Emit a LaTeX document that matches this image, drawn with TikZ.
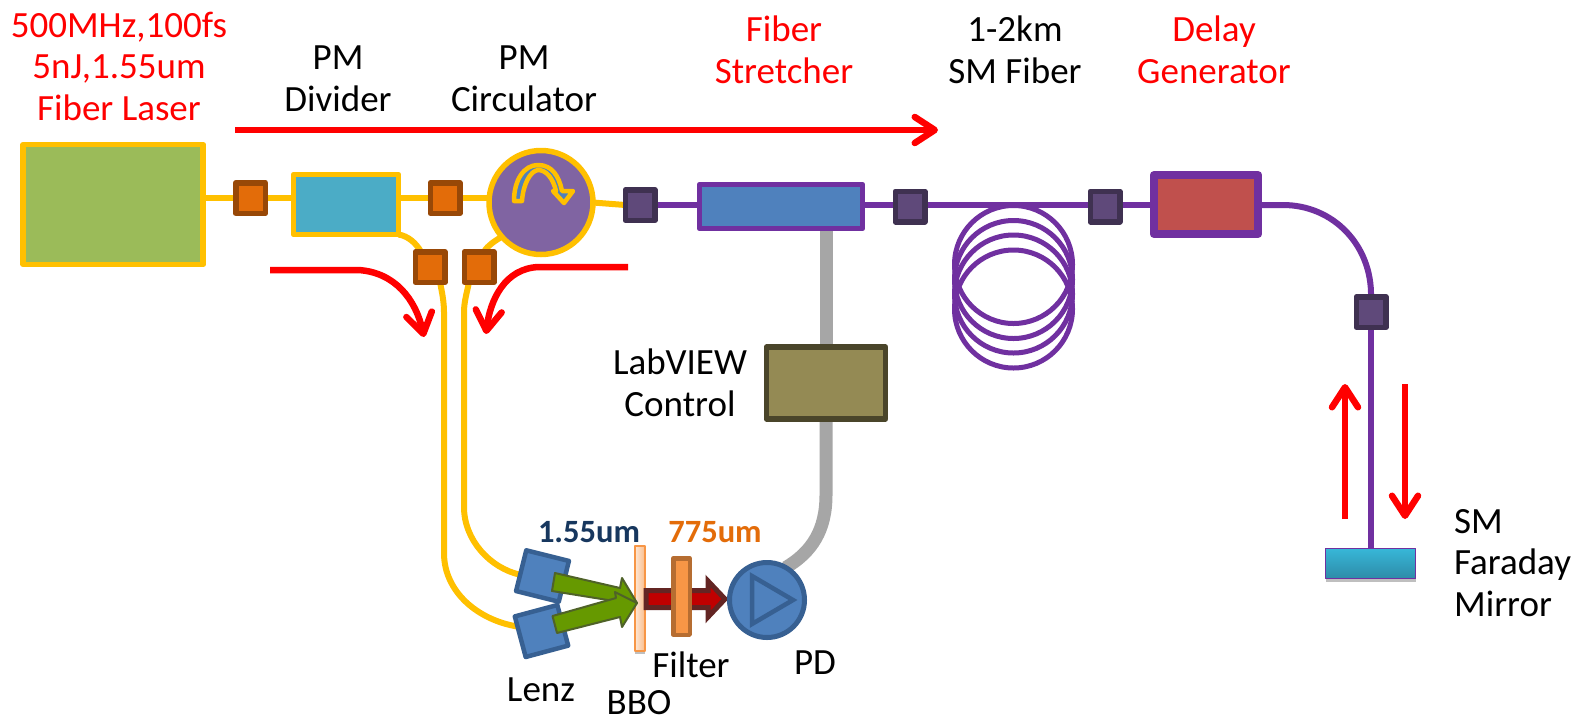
\documentclass[tikz,border=0pt]{standalone}
\usepackage{fontspec}
\setmainfont{Carlito}
\usetikzlibrary{arrows.meta,backgrounds,calc,shadows}
\definecolor{cfy}{HTML}{FFC000}
\definecolor{cfp}{HTML}{7030A0}
\definecolor{cblue}{HTML}{4F81BD}
\definecolor{cblued}{HTML}{376092}
\definecolor{cor}{HTML}{E36C09}
\definecolor{cord}{HTML}{984807}
\definecolor{cpu}{HTML}{5F497A}
\definecolor{cpud}{HTML}{3F3151}
\definecolor{cgray}{HTML}{A6A6A6}
\tikzset{
  box/.style={draw,rectangle,inner sep=0pt,outer sep=0pt,line join=round},
  pmconn/.style={box,draw=cord,fill=cor,line width=5.5pt,minimum width=29.5pt,minimum height=30.5pt},
  smconn/.style={box,draw=cpud,fill=cpu,line width=5.5pt,minimum width=29.5pt,minimum height=30.5pt},
  lensbox/.style={box,draw=cblued,fill=cblue,line width=4.5pt,minimum width=44pt,minimum height=42pt},
  pmfiber/.style={draw=cfy,line width=6pt},
  smfiber/.style={draw=cfp,line width=6pt},
  coil/.style={draw=cfp,line width=5pt},
  ctrl/.style={draw=cgray,line width=13pt},
  redarrow/.style={draw=red,line width=6.5pt,-{Straight Barb[length=20pt,width=26pt,round]}},
  softshadow/.style={drop shadow={shadow xshift=0pt,shadow yshift=-3pt,opacity=.25,fill=black}},
  lbl/.style={align=center,inner sep=0pt,font=\fontsize{37}{41.5}\selectfont},
  redlbl/.style={lbl,text=red},
  wave/.style={inner sep=0pt,font=\fontsize{32.5}{36}\selectfont\bfseries}
}
\begin{document}
\begin{tikzpicture}[x=1pt,y=-1pt]
\useasboundingbox (0,0) rectangle (1592,721);
% devices
\node[box,draw=cfy,fill={rgb,255:red,155;green,187;blue,89},line width=5.5pt,minimum width=180pt,minimum height=120pt] (laser) at (113.2,204.5) {};
\node[pmconn] (c1) at (250.5,198) {};
\node[box,draw=cfy,fill={rgb,255:red,75;green,172;blue,198},line width=5.5pt,minimum width=105pt,minimum height=60pt] (divider) at (346,204.5) {};
\node[pmconn] (c2) at (445,198) {};
\node[circle,draw=cfy,fill={rgb,255:red,128;green,100;blue,162},line width=5.5pt,inner sep=0pt,outer sep=0pt,minimum size=104pt] (circ) at (541,202.5) {};
\node[pmconn] (c3) at (430,267) {};
\node[pmconn] (c4) at (479,267) {};
\node[smconn] (c5) at (640,205) {};
\node[box,draw=cfp,fill=cblue,line width=5.5pt,minimum width=163pt,minimum height=44pt] (stretcher) at (781,206.5) {};
\node[smconn] (c6) at (910,206.5) {};
\node[smconn] (c7) at (1105,206.5) {};
\node[box,draw=cfp,fill={rgb,255:red,192;green,80;blue,77},line width=8pt,minimum width=104.5pt,minimum height=59pt,softshadow] (delay) at (1206,204.5) {};
\node[smconn] (c8) at (1371,312) {};
\node[box,draw=cfp,top color={rgb,255:red,55;green,183;blue,216},bottom color={rgb,255:red,46;green,139;blue,168},line width=1.5pt,minimum width=90pt,minimum height=30pt,softshadow] (mirror) at (1370.5,563.5) {};
\node[box,draw={rgb,255:red,74;green,69;blue,42},fill={rgb,255:red,148;green,138;blue,84},line width=5.5pt,minimum width=119pt,minimum height=72pt] (labview) at (826,383) {};
\node[lensbox,rotate=15] (lensL) at (541.5,631) {};
\node[lensbox,rotate=-14] (lensU) at (542.5,576) {};
\node[box,draw={rgb,255:red,247;green,150;blue,70},left color={rgb,255:red,253;green,233;blue,217},right color={rgb,255:red,250;green,191;blue,143},line width=2pt,minimum width=10pt,minimum height=105pt,softshadow] (bbo) at (639.5,598.5) {};
% 775 beam
\draw[line width=5pt,draw={rgb,255:red,99;green,37;blue,35},fill={rgb,255:red,192;green,0;blue,0},line join=miter]
  (646,590.5) -- (708,590.5) -- (708,581) -- (725,599) -- (708,617) -- (708,607.5) -- (646,607.5) -- cycle;
\node[box,draw={rgb,255:red,182;green,109;blue,49},fill={rgb,255:red,247;green,150;blue,70},line width=4.5pt,minimum width=16.5pt,minimum height=76.5pt] (filter) at (681.5,596.5) {};
% 1.55 beams
\draw[line width=2pt,draw={rgb,255:red,79;green,98;blue,40},fill={rgb,255:red,102;green,153;blue,0},line join=round]
  (555,573) -- (620,588) -- (622,578) -- (637,603) -- (612,604) -- (614,601) -- (552,591) -- cycle;
\draw[line width=2pt,draw={rgb,255:red,79;green,98;blue,40},fill={rgb,255:red,102;green,153;blue,0},line join=round]
  (552.5,616) -- (616,598) -- (615,592) -- (637,603) -- (622,627) -- (620,617) -- (557,633) -- cycle;
% PD
\node[circle,draw=cblued,fill=cblue,line width=5pt,inner sep=0pt,outer sep=0pt,minimum size=75pt] (pd) at (767,600) {};
\draw[line width=4.5pt,draw=cblued,fill=cblue,line join=miter] (752,576) -- (752,624) -- (793,600) -- cycle;
% circulator symbol
\draw[line width=4.5pt,draw=cfy,fill=cblue,line join=round]
  (514,201) .. controls (514,180) and (524,165) .. (538,165)
  .. controls (552,165) and (559,176) .. (562,191) -- (573,191) -- (564,203) -- (553,191) -- (556,191)
  .. controls (553,178) and (546,170) .. (538,170)
  .. controls (530,171) and (523,185) .. (522,201) -- cycle;
% connectors behind the devices
\begin{scope}[on background layer]
\fill[white] (0,0) rectangle (1592,721);
\draw[pmfiber] (c1 -| laser.east) -- (c1.west);
\draw[pmfiber] (c1.east) -- (c1 -| divider.west);
\draw[pmfiber] (c2 -| divider.east) -- (c2.west);
\draw[pmfiber] (c2.east) -- (c2 -| circ.west);
\draw[pmfiber] (circ.east) -- (c5.west);
\draw[pmfiber] (divider.south east) .. controls (408,236) and (416,243) .. ([xshift=-9pt]c3.north);
\draw[pmfiber] (circ.221) .. controls (495,241) and (488,245) .. ([xshift=5pt]c4.north);
\draw[pmfiber] ([xshift=10pt]c3.south) .. controls (442,292) and (444,302) .. (444,312) -- (444,553)
  .. controls (444,592) and (478,620) .. ($(lensL.north west)!.25!(lensL.south west)$);
\draw[pmfiber] ([xshift=-10pt]c4.south) .. controls (467,292) and (464,302) .. (464,312) -- (464,507)
  .. controls (464,540) and (490,568) .. ($(lensU.north west)!.6!(lensU.south west)$);
\draw[smfiber] (c5.east) -- (c5 -| stretcher.west);
\draw[smfiber] (stretcher.east |- 0,205) -- (c6.west |- 0,205);
\draw[smfiber] (c6.east |- 0,205) -- (c7.west |- 0,205);
\draw[smfiber] (c7.east |- 0,205) -- (delay.west |- 0,205);
\draw[smfiber] (delay.east |- 0,205) -- (1283,205) .. controls (1333,205) and (1372,245) .. (c8.north);
\draw[smfiber] (c8.south) -- (c8.south |- mirror.north);
\draw[ctrl] (stretcher.south -| labview.north) -- (labview.north);
\draw[ctrl] (labview.south) -- (826,495) .. controls (826,530) and (812,552) .. (pd.60);
\foreach \cy in {264.5,279.5,294,309} \draw[coil] (1013.5,\cy) circle (59pt);
\end{scope}
% flow arrows
\coordinate (flowS) at (235,130); \coordinate (flowE) at (938,130);
\draw[redarrow] (flowS) -- (flowE);
\coordinate (inS) at (270,270); \coordinate (inM) at (358,270); \coordinate (inE) at (424,337);
\draw[redarrow] (inS) -- (inM) .. controls (395,272) and (416,300) .. (inE);
\coordinate (outS) at (628,267); \coordinate (outM) at (539,267); \coordinate (outE) at (486,334);
\draw[redarrow] (outS) -- (outM) .. controls (505,268) and (490,300) .. (outE);
\coordinate (upS) at (1345,519); \coordinate (upE) at (1345,384);
\draw[redarrow] (upS) -- (upE);
\coordinate (dnS) at (1405,384); \coordinate (dnE) at (1405,519);
\draw[redarrow] (dnS) -- (dnE);
% labels
\node[redlbl] (tlaser) at (119,66) {500MHz,100fs\\5nJ,1.55um\\Fiber Laser};
\node[lbl] (tdiv) at (338,79) {PM\\Divider};
\node[lbl] (tcirc) at (524,79) {PM\\Circulator};
\node[redlbl] (tstr) at (784,50) {Fiber\\Stretcher};
\node[lbl] (tsm) at (1015,50) {1-2km\\SM Fiber};
\node[redlbl] (tdel) at (1214,50) {Delay\\Generator};
\node[lbl] (tlab) at (680,383) {LabVIEW\\Control};
\node[lbl,align=left,anchor=west] (tfar) at (1454,563) {SM\\Faraday\\Mirror};
\node[wave,text={rgb,255:red,23;green,55;blue,94}] (t155) at (589,532) {1.55um};
\node[wave,text=cor] (t775) at (715,532) {775um};
\node[lbl] (tfil) at (691,665) {Filter};
\node[lbl] (tpd) at (815,663) {PD};
\node[lbl] (tlenz) at (541,690) {Lenz};
\node[lbl] (tbbo) at (639,703) {BBO};
\end{tikzpicture}
\end{document}
